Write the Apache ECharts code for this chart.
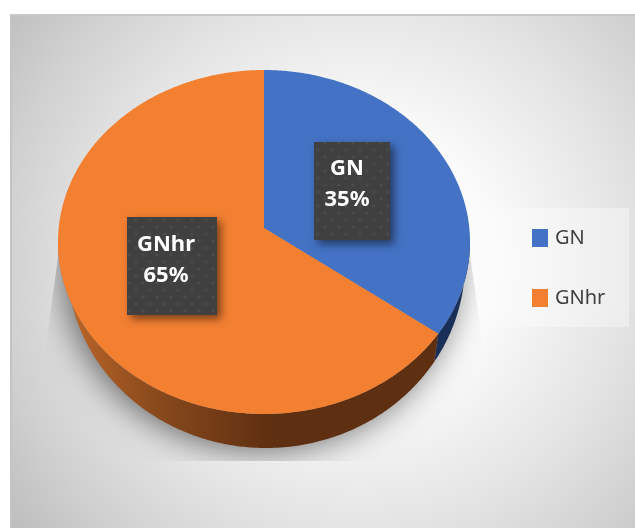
<!DOCTYPE html>
<html><head><meta charset="utf-8">
<style>html,body{margin:0;padding:0;background:#fff}#c{width:635px;height:528px}</style>
<script src="https://cdn.jsdelivr.net/npm/echarts@6/dist/echarts.min.js"></script>
</head><body><div id="c"></div>
<script>
const categories = ['GN', 'GNhr'];
const values = [35, 65];
const topColors = ['#4472c4', '#f37f31'];
const legendFont = '"Noto Sans", "Open Sans", sans-serif';

const P = {cx:264, cy:242, rx:206, ry:172, apexY:228, bcx:266, bcy:263, brx:199, bry:185};
const boxes = [{x:314,y:142,w:76,h:98,tx:347,ty:184},{x:127,y:217,w:90,h:98,tx:166,ty:260}];
const total = values.reduce((a,b)=>a+b,0);

function dotPattern(){
  const s=14, c=document.createElement('canvas'); c.width=c.height=s;
  const g=c.getContext('2d');
  g.fillStyle='#404040'; g.fillRect(0,0,s,s);
  g.fillStyle='rgba(255,255,255,0.06)';
  [[3,3],[10,10]].forEach(p=>{g.beginPath();g.arc(p[0],p[1],1.6,0,7);g.fill();});
  return c;
}
const pattern = dotPattern();

function rimParam(frac){
  const a = frac*2*Math.PI;
  if (frac===0 || frac===1) return a;
  const dx=P.rx*Math.sin(a), dy=-P.ry*Math.cos(a), oy=P.apexY-P.cy;
  const A=(dx/P.rx)**2+(dy/P.ry)**2, B=2*dy*oy/P.ry**2, C=(oy/P.ry)**2-1;
  const t=(-B+Math.sqrt(B*B-4*A*C))/(2*A);
  const x=dx*t, y=oy+dy*t;
  let p=Math.atan2(x/P.rx,-y/P.ry); if(p<0)p+=2*Math.PI;
  return p;
}
const rim=p=>[P.cx+P.rx*Math.sin(p), P.cy-P.ry*Math.cos(p)];
const low=p=>[P.bcx+P.brx*Math.sin(p), P.bcy-P.bry*Math.cos(p)];
function arc(fn,p0,p1){
  const n=Math.max(2,Math.ceil(Math.abs(p1-p0)/0.01)),o=[];
  for(let i=0;i<=n;i++)o.push(fn(p0+(p1-p0)*i/n));
  return o;
}
function sidePoints(p0,p1){
  const lo=Math.max(p0,Math.PI/2), hi=Math.min(p1,Math.PI*1.5);
  if(hi<=lo)return null;
  return arc(rim,lo,hi).concat(arc(low,hi,lo));
}
function makeRender(idx){
  return function(params,api){
    const before=values.slice(0,idx).reduce((a,b)=>a+b,0);
    const v=api.value(0);
    const p0=rimParam(before/total), p1=rimParam((before+v)/total);
    const side=sidePoints(p0,p1);
    const fill=idx===0?'#1a2f58':{type:'linear',x:60,y:0,x2:270,y2:0,global:true,colorStops:[
      {offset:0,color:'#c0682a'},{offset:.45,color:'#8a4a1c'},{offset:1,color:'#5f2f11'}]};
    const children=[];
    if(side)children.push({type:'polygon',shape:{points:side},style:{fill}});
    const pts=[[P.cx,P.apexY]].concat(arc(rim,p0,p1));
    children.push({type:'polygon',z2:5,shape:{points:pts},style:{fill:topColors[idx]}});
    return {type:'group',children};
  };
}
function makeLabels(idx){
  return function(params,api){
    const b=boxes[idx];
    return {type:'group',children:[
      {type:'rect',shape:{x:b.x,y:b.y,width:b.w,height:b.h},
       style:{fill:{image:pattern,repeat:'repeat'},shadowBlur:9,shadowOffsetX:4,shadowOffsetY:4,shadowColor:'rgba(0,0,0,0.5)'}},
      {type:'text',x:b.tx,y:b.ty,style:{
        text:categories[idx]+'\n'+api.value(0)+'%',fill:'#fff',font:'700 22px '+legendFont,
        align:'center',verticalAlign:'middle',lineHeight:31}}
    ]};
  };
}
const series=categories.map((name,i)=>({
  type:'custom',name,coordinateSystem:'none',z:3,silent:true,
  itemStyle:{color:topColors[i]},
  data:[[values[i]]],renderItem:makeRender(i)
}));
categories.forEach((name,i)=>series.push({
  type:'custom',coordinateSystem:'none',z:5,silent:true,legendHoverLink:false,
  data:[[values[i]]],renderItem:makeLabels(i)
}));

const chart=echarts.init(document.getElementById('c'),null,{renderer:'canvas'});
chart.setOption({
  animation:false,
  legend:{data:categories,orient:'vertical',left:527,top:223,itemWidth:16,itemHeight:18,itemGap:40,
    icon:'rect',selectedMode:false,
    textStyle:{fontFamily:legendFont,fontSize:20,color:'#404040',padding:[-3,0,3,2]}},
  graphic:{elements:[
    {type:'rect',z:-10,shape:{x:10,y:14,width:625,height:514},style:{
      fill:{type:'radial',x:360,y:262,r:440,global:true,colorStops:[
        {offset:0,color:'#ffffff'},{offset:.3,color:'#fbfbfb'},{offset:.6,color:'#e4e4e4'},{offset:.82,color:'#d0d0d0'},{offset:1,color:'#bdbdbd'}]},
      stroke:null}},
    {type:'rect',z:-9,shape:{x:10,y:14,width:625,height:2},style:{fill:'#c8c8c8'}},
    {type:'rect',z:-9,shape:{x:10,y:14,width:2,height:514},style:{fill:'#c4c4c4'}},
    {type:'group',z:-8,children:[
      {type:'ellipse',shape:{cx:266,cy:263,rx:197,ry:183},
       style:{fill:'#999',shadowBlur:34,shadowOffsetX:-5,shadowOffsetY:4,shadowColor:'rgba(0,0,0,0.58)'},
       clipPath:{type:'polygon',shape:{points:[[67,190],[45,354],[45,461],[482,461],[482,340],[461,190]]}}}
    ]},
    {type:'rect',z:-7,shape:{x:470,y:208,width:159,height:119},style:{
      fill:{type:'linear',x:0,y:0,x2:1,y2:0,colorStops:[
        {offset:0,color:'rgba(255,255,255,0)'},{offset:.35,color:'rgba(255,255,255,0.35)'},{offset:1,color:'rgba(255,255,255,0.35)'}]}}}
  ]},
  series
});
</script></body></html>
